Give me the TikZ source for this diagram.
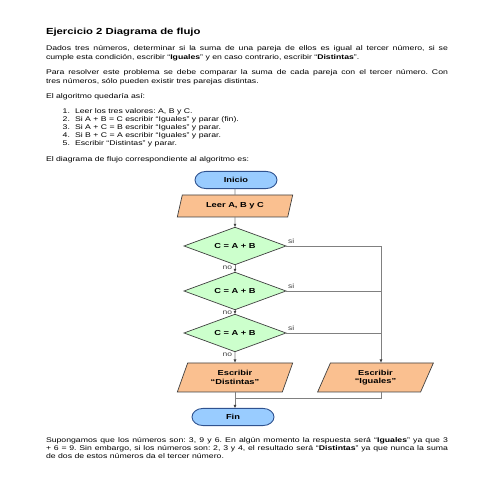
\documentclass[tikz,border=0pt]{standalone}
\usepackage{fontspec}
\setmainfont{Liberation Sans}
\frenchspacing
\usetikzlibrary{shapes.geometric,shapes.misc,arrows.meta,calc}
\definecolor{termblue}{RGB}{153,204,255}
\definecolor{termdraw}{RGB}{47,82,143}
\definecolor{iopeach}{RGB}{250,192,144}
\definecolor{decgreen}{RGB}{204,255,204}
\definecolor{shapedraw}{RGB}{64,64,64}
\definecolor{linegray}{RGB}{128,128,128}
\tikzset{%
  >={Latex[length=3.5pt,width=3pt,color=shapedraw]}, % small dark tips
  inner sep=0pt,%
  outer sep=0pt,%
  body text/.style={font=\fontsize{8.7}{10.26}\selectfont},
  para/.style={body text,text width=402pt,align=justify,anchor=base west},
  term/.style={rounded rectangle,draw=termdraw,line width=0.9pt,fill=termblue,
    minimum width=82pt,minimum height=22pt,font=\fontsize{9.3}{11}\bfseries},
  iobox/.style={trapezium,trapezium left angle=72,trapezium right angle=108,
    trapezium stretches=true,draw=shapedraw,line width=0.7pt,fill=iopeach,
    minimum width=116pt,minimum height=28.2pt,align=center,
    font=\fontsize{9.3}{11.1}\bfseries},
  decision/.style={diamond,draw=shapedraw,line width=0.7pt,fill=decgreen,
    minimum width=102pt,minimum height=42.3pt,font=\fontsize{9.3}{11}\bfseries},
  flow/.style={draw=linegray,line width=0.7pt},
  branch/.style={font=\fontsize{8.5}{10}\selectfont,text=shapedraw}
}

\begin{document}
\begin{tikzpicture}[x=1pt,y=-1.282pt,yscale=0.78,transform shape] % y = pixel rows

%% page frame

\useasboundingbox (0,0) rectangle (495,495);

%% text above the chart

\node[anchor=base west,font=\fontsize{11.3}{13}\bfseries] (title) at (46,35)
  {Ejercicio 2 Diagrama de flujo};
\node[para] (intro) at (46,51) {Dados tres números, determinar si la suma de una
  pareja de ellos es igual al tercer número, si se\linebreak cumple esta condición,
  escribir “\textbf{Iguales}” y en caso contrario, escribir “\textbf{Distintas}”.};
\node[para] (idea) at (46,75) {Para resolver este problema se debe comparar la suma
  de cada pareja con el tercer número. Con\linebreak tres números, sólo pueden
  existir tres parejas distintas.};
\node[para] (algo) at (46,99) {El algoritmo quedaría así:};
\foreach \txt [count=\i] in {{Leer los tres valores: A, B y C.},
    {Si A + B = C escribir “Iguales” y parar (fin).},
    {Si A + C = B escribir “Iguales” y parar.},
    {Si B + C = A escribir “Iguales” y parar.},
    {Escribir “Distintas” y parar.}}{
  \node[body text,anchor=base east] (num\i) at (70,106+8*\i) {\i.};
  \node[body text,anchor=base west] (step\i) at (75,106+8*\i) {\txt};
}
\node[para] (lead) at (46,162) {El diagrama de flujo correspondiente al algoritmo es:};

%% flow chart

\node[term] (inicio) at (236,180) {Inicio};
\node[iobox] (leer) at (235,206) {Leer A, B y C};
\node[decision] (cab1) at (235,246) {C = A + B};
\node[decision] (cab2) at (235,291) {C = A + B};
\node[decision] (cab3) at (235,333) {C = A + B};
\node[iobox,minimum height=37.2pt,trapezium left angle=73.5,
  trapezium right angle=106.5] (distintas) at (235,377.5) {Escribir\\“Distintas”};
\node[iobox,minimum height=37.2pt,trapezium left angle=73.5,
  trapezium right angle=106.5] (iguales) at (375.5,377.5) {Escribir\\“Iguales”};
\node[term] (fin) at (233,417) {Fin};

%% connectors and branch labels

\coordinate (yes) at (381,246);
\coordinate (join) at (235,398);
\draw[flow] (inicio.south -| leer) -- (leer.north);
\draw[flow,->] (leer) -- (cab1);
\draw[flow,->] (cab1) -- (cab2);
\draw[flow,->] (cab2) -- (cab3);
\draw[flow,->] (cab3) -- (distintas);
\draw[flow,->] (cab1.east) -- (yes) -- (yes |- iguales.north);
\draw[flow] (cab2.east) -- (cab2.east -| yes);
\draw[flow] (cab3.east) -- (cab3.east -| yes);
\draw[flow,->] (distintas.south) -- (distintas.south |- fin.north);
\draw[flow] (yes |- iguales.south) |- (join);
\foreach \d in {1,2,3}{
  \node[branch,anchor=south west] (si\d) at ($(cab\d.east)+(2,-2.5)$) {si};
  \node[branch,anchor=north east] (no\d) at ($(cab\d.south)+(-3,1)$) {no};
}

%% text below the chart

\node[para] (example) at (46,443) {Supongamos que los números son: 3, 9 y 6. En algún
  momento la respuesta será “\textbf{Iguales}” ya que 3\linebreak + 6 = 9. Sin embargo,
  si los números son: 2, 3 y 4, el resultado será “\textbf{Distintas}” ya que nunca
  la suma\linebreak de dos de estos números da el tercer número.};

\end{tikzpicture}
\end{document}
